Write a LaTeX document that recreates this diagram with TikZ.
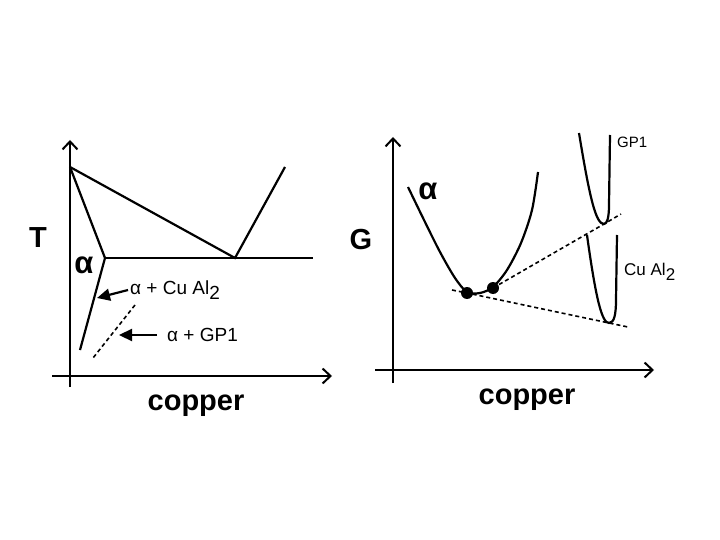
\documentclass[tikz,border=0pt]{standalone}
\usepackage{fontspec}
\setmainfont{Liberation Sans}
\usetikzlibrary{arrows.meta}
\tikzset{
  axis/.style={line width=2.2pt,-{Straight Barb[length=8pt,width=15pt,line width=2pt]}},
  curve/.style={line width=2.2pt},
  tangent/.style={line width=1.6pt,dash pattern=on 4pt off 3pt},
  pointer/.style={line width=2.2pt,-{Triangle[length=13pt,width=12pt]}},
  biglabel/.style={font=\fontsize{29}{29}\selectfont\bfseries,inner sep=0pt},
  greek/.style={font=\fontsize{31}{31}\selectfont\bfseries,inner sep=0pt},
  phaselabel/.style={font=\fontsize{19}{19}\selectfont,inner sep=0pt,anchor=west},
  dot/.style={circle,fill,inner sep=0pt,minimum size=12pt}
}
\newcommand{\subtwo}{\raisebox{-0.55ex}{2}}
\begin{document}
\begin{tikzpicture}[x=1pt,y=-1pt]
  \useasboundingbox (0,0) rectangle (720,540);
  % phase diagram
  \coordinate (Tbot) at (70,387);
  \coordinate (Ttop) at (70,140);
  \coordinate (cl) at (52,376);
  \coordinate (cr) at (332,376);
  \draw[axis] (Tbot) -- (Ttop);
  \draw[axis] (cl) -- (cr);
  \coordinate (melt) at (70,167);
  \coordinate (eut) at (235,258);
  \coordinate (liqR) at (285,167);
  \coordinate (sol) at (105,258);
  \coordinate (eutR) at (313,258);
  \coordinate (solvus) at (80,350);
  \coordinate (gpA) at (135,305);
  \coordinate (gpB) at (93,358);
  \draw[curve] (melt) -- (eut) -- (liqR);
  \draw[curve] (melt) -- (sol) -- (solvus);
  \draw[curve] (sol) -- (eutR);
  \draw[tangent] (gpA) -- (gpB);
  \node[biglabel] (T) at (38,238) {T};
  \node[greek] (alphaL) at (84,265) {α};
  \node[phaselabel] (cualL) at (130,290) {α + Cu Al\subtwo};
  \coordinate (cualtip) at (97,298);
  \draw[pointer] ([xshift=-2pt]cualL.west) -- (cualtip);
  \node[phaselabel] (gpL) at (167,335) {α + GP1};
  \coordinate (gptip) at (119,335);
  \draw[pointer] ([xshift=-10pt]gpL.west) -- (gptip);
  \node[biglabel] (copperL) at (196,406) {copper};
  % free energy curves
  \coordinate (Gbot) at (393,383);
  \coordinate (Gtop) at (393,137);
  \coordinate (gl) at (375,370);
  \coordinate (gr) at (654,370);
  \draw[axis] (Gbot) -- (Gtop);
  \draw[axis] (gl) -- (gr);
  \draw[curve] plot[smooth] coordinates {(408,187) (424,220) (440,252) (455,278)
    (467,292) (480,293) (493,287) (507,270) (521,243) (532,210) (538,172)};
  \node[dot] (d1) at (467,293) {};
  \node[dot] (d2) at (493,288) {};
  \coordinate (gpMin) at (604,224);
  \coordinate (cuMin) at (609,323);
  \coordinate (lowA) at (452,290);
  \coordinate (lowB) at (628,327);
  \coordinate (upB) at (621,214);
  \draw[tangent] (lowA) -- (d1.center) -- (cuMin) -- (lowB);
  \draw[tangent] (d2.center) -- (gpMin) -- (upB);
  \draw[curve] (579,133) .. controls (590,200) and (596,224) .. (gpMin)
    .. controls (607,224) and (609,218) .. (609,205) -- (610,135);
  \draw[curve] (587,235) .. controls (596,300) and (602,323) .. (cuMin)
    .. controls (614,323) and (616,315) .. (616,300) -- (617,235);
  \node[biglabel] (G) at (361,240) {G};
  \node[greek] (alphaR) at (428,191) {α};
  \node[phaselabel,font=\fontsize{15}{15}\selectfont] (gpR) at (617,142) {GP1};
  \node[phaselabel,font=\fontsize{17}{17}\selectfont] (cuR) at (624,272) {Cu Al\subtwo};
  \node[biglabel] (copperR) at (527,400) {copper};
\end{tikzpicture}
\end{document}
